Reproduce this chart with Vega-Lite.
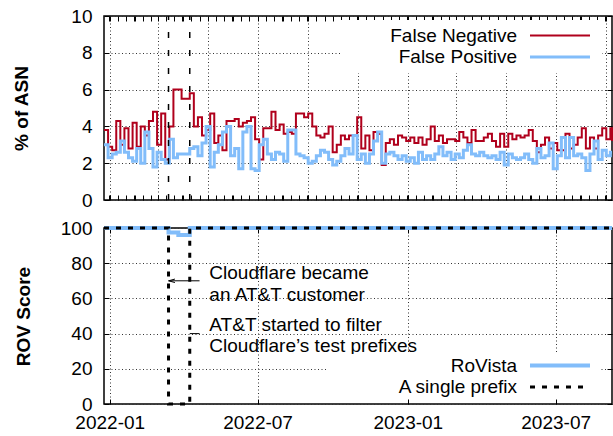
{
  "$schema": "https://vega.github.io/schema/vega-lite/v6.json",
  "padding": {"left": 12, "top": 6, "right": 1, "bottom": 0},
  "background": "white",
  "spacing": 28,
  "bounds": "flush",
  "resolve": {
    "scale": {"color": "independent", "strokeWidth": "independent", "strokeDash": "independent"},
    "legend": {"color": "independent", "strokeWidth": "independent", "strokeDash": "independent"}
  },
  "config": {
    "font": "Liberation Sans",
    "view": {"stroke": "black", "strokeWidth": 1.5},
    "axis": {
      "labelFont": "Liberation Sans", "labelFontSize": 19, "labelColor": "black",
      "titleFont": "Liberation Sans", "titleFontSize": 19, "titleColor": "black", "titleFontWeight": "bold",
      "domain": false, "tickColor": "black", "tickWidth": 1, "tickSize": -5, "labelFlush": false,
      "gridColor": "#333", "gridDash": [1, 2.5], "gridWidth": 1
    },
    "legend": {"labelFont": "Liberation Sans", "labelFontSize": 19, "labelColor": "black"}
  },
  "vconcat": [
    {
      "width": 508, "height": 184,
      "resolve": {"axis": {"x": "independent", "y": "independent"}},
      "layer": [
        {
          "data": {"values": [
            {"date":"2021-12-25","False Negative":3.8,"False Positive":3.0},
            {"date":"2021-12-30","False Negative":2.9,"False Positive":2.3},
            {"date":"2022-01-04","False Negative":2.7,"False Positive":2.5},
            {"date":"2022-01-09","False Negative":4.3,"False Positive":2.6},
            {"date":"2022-01-14","False Negative":3.0,"False Positive":3.2},
            {"date":"2022-01-19","False Negative":3.9,"False Positive":2.6},
            {"date":"2022-01-24","False Negative":2.8,"False Positive":2.3},
            {"date":"2022-01-29","False Negative":4.2,"False Positive":2.1},
            {"date":"2022-02-03","False Negative":2.9,"False Positive":2.8},
            {"date":"2022-02-08","False Negative":4.0,"False Positive":2.0},
            {"date":"2022-02-13","False Negative":3.5,"False Positive":3.7},
            {"date":"2022-02-18","False Negative":4.3,"False Positive":2.8},
            {"date":"2022-02-23","False Negative":4.8,"False Positive":1.8},
            {"date":"2022-02-28","False Negative":3.0,"False Positive":2.6},
            {"date":"2022-03-05","False Negative":4.7,"False Positive":2.2},
            {"date":"2022-03-10","False Negative":2.2,"False Positive":2.0},
            {"date":"2022-03-15","False Negative":4.0,"False Positive":3.3},
            {"date":"2022-03-20","False Negative":6.0,"False Positive":2.3},
            {"date":"2022-03-25","False Negative":6.0,"False Positive":2.5},
            {"date":"2022-03-30","False Negative":5.5,"False Positive":2.5},
            {"date":"2022-04-04","False Negative":5.5,"False Positive":2.5},
            {"date":"2022-04-09","False Negative":5.8,"False Positive":2.8},
            {"date":"2022-04-14","False Negative":4.0,"False Positive":2.9},
            {"date":"2022-04-19","False Negative":4.5,"False Positive":2.4},
            {"date":"2022-04-24","False Negative":3.5,"False Positive":3.1},
            {"date":"2022-04-29","False Negative":3.8,"False Positive":4.0},
            {"date":"2022-05-04","False Negative":4.7,"False Positive":1.8},
            {"date":"2022-05-09","False Negative":3.1,"False Positive":2.6},
            {"date":"2022-05-14","False Negative":3.5,"False Positive":3.0},
            {"date":"2022-05-19","False Negative":2.7,"False Positive":3.7},
            {"date":"2022-05-24","False Negative":4.3,"False Positive":4.0},
            {"date":"2022-05-29","False Negative":4.3,"False Positive":2.4},
            {"date":"2022-06-03","False Negative":4.4,"False Positive":2.8},
            {"date":"2022-06-08","False Negative":4.0,"False Positive":1.7},
            {"date":"2022-06-13","False Negative":4.2,"False Positive":3.7},
            {"date":"2022-06-18","False Negative":4.3,"False Positive":4.0},
            {"date":"2022-06-23","False Negative":4.5,"False Positive":1.7},
            {"date":"2022-06-28","False Negative":3.3,"False Positive":1.6},
            {"date":"2022-07-03","False Negative":2.2,"False Positive":3.0},
            {"date":"2022-07-08","False Negative":3.9,"False Positive":3.3},
            {"date":"2022-07-13","False Negative":3.9,"False Positive":2.5},
            {"date":"2022-07-18","False Negative":4.8,"False Positive":2.2},
            {"date":"2022-07-23","False Negative":3.8,"False Positive":2.6},
            {"date":"2022-07-28","False Negative":4.1,"False Positive":2.5},
            {"date":"2022-08-02","False Negative":3.6,"False Positive":2.1},
            {"date":"2022-08-07","False Negative":3.7,"False Positive":3.8},
            {"date":"2022-08-12","False Negative":3.6,"False Positive":3.8},
            {"date":"2022-08-17","False Negative":4.7,"False Positive":2.5},
            {"date":"2022-08-22","False Negative":4.7,"False Positive":2.4},
            {"date":"2022-08-27","False Negative":4.5,"False Positive":2.3},
            {"date":"2022-09-01","False Negative":4.7,"False Positive":2.0},
            {"date":"2022-09-06","False Negative":4.0,"False Positive":2.1},
            {"date":"2022-09-11","False Negative":3.5,"False Positive":2.4},
            {"date":"2022-09-16","False Negative":3.4,"False Positive":2.7},
            {"date":"2022-09-21","False Negative":3.6,"False Positive":2.6},
            {"date":"2022-09-26","False Negative":4.0,"False Positive":2.2},
            {"date":"2022-10-01","False Negative":2.6,"False Positive":1.9},
            {"date":"2022-10-06","False Negative":3.0,"False Positive":2.1},
            {"date":"2022-10-11","False Negative":3.5,"False Positive":2.4},
            {"date":"2022-10-16","False Negative":3.3,"False Positive":2.8},
            {"date":"2022-10-21","False Negative":3.5,"False Positive":2.5},
            {"date":"2022-10-26","False Negative":3.5,"False Positive":3.5},
            {"date":"2022-10-31","False Negative":4.5,"False Positive":2.2},
            {"date":"2022-11-05","False Negative":2.8,"False Positive":2.5},
            {"date":"2022-11-10","False Negative":3.5,"False Positive":2.0},
            {"date":"2022-11-15","False Negative":2.7,"False Positive":2.5},
            {"date":"2022-11-20","False Negative":3.7,"False Positive":3.2},
            {"date":"2022-11-25","False Negative":3.6,"False Positive":3.7},
            {"date":"2022-11-30","False Negative":1.9,"False Positive":2.0},
            {"date":"2022-12-05","False Negative":3.1,"False Positive":2.5},
            {"date":"2022-12-10","False Negative":3.3,"False Positive":2.6},
            {"date":"2022-12-15","False Negative":3.0,"False Positive":2.4},
            {"date":"2022-12-20","False Negative":3.5,"False Positive":2.2},
            {"date":"2022-12-25","False Negative":3.4,"False Positive":2.4},
            {"date":"2022-12-30","False Negative":3.2,"False Positive":2.1},
            {"date":"2023-01-04","False Negative":3.4,"False Positive":2.3},
            {"date":"2023-01-09","False Negative":3.1,"False Positive":2.0},
            {"date":"2023-01-14","False Negative":3.4,"False Positive":2.6},
            {"date":"2023-01-19","False Negative":3.0,"False Positive":2.2},
            {"date":"2023-01-24","False Negative":3.3,"False Positive":2.4},
            {"date":"2023-01-29","False Negative":4.0,"False Positive":2.2},
            {"date":"2023-02-03","False Negative":3.2,"False Positive":2.5},
            {"date":"2023-02-08","False Negative":3.5,"False Positive":2.9},
            {"date":"2023-02-13","False Negative":3.1,"False Positive":2.4},
            {"date":"2023-02-18","False Negative":3.3,"False Positive":2.6},
            {"date":"2023-02-23","False Negative":3.3,"False Positive":2.2},
            {"date":"2023-02-28","False Negative":3.2,"False Positive":2.5},
            {"date":"2023-03-05","False Negative":3.7,"False Positive":2.3},
            {"date":"2023-03-10","False Negative":3.4,"False Positive":2.7},
            {"date":"2023-03-15","False Negative":3.1,"False Positive":3.0},
            {"date":"2023-03-20","False Negative":3.8,"False Positive":2.5},
            {"date":"2023-03-25","False Negative":3.2,"False Positive":2.4},
            {"date":"2023-03-30","False Negative":3.2,"False Positive":2.6},
            {"date":"2023-04-04","False Negative":3.4,"False Positive":2.4},
            {"date":"2023-04-09","False Negative":3.6,"False Positive":2.3},
            {"date":"2023-04-14","False Negative":3.2,"False Positive":2.4},
            {"date":"2023-04-19","False Negative":2.9,"False Positive":2.2},
            {"date":"2023-04-24","False Negative":3.6,"False Positive":2.6},
            {"date":"2023-04-29","False Negative":2.9,"False Positive":1.9},
            {"date":"2023-05-04","False Negative":3.6,"False Positive":2.5},
            {"date":"2023-05-09","False Negative":3.3,"False Positive":2.3},
            {"date":"2023-05-14","False Negative":3.5,"False Positive":2.2},
            {"date":"2023-05-19","False Negative":3.4,"False Positive":2.3},
            {"date":"2023-05-24","False Negative":3.5,"False Positive":2.5},
            {"date":"2023-05-29","False Negative":3.8,"False Positive":2.2},
            {"date":"2023-06-03","False Negative":3.2,"False Positive":2.0},
            {"date":"2023-06-08","False Negative":2.6,"False Positive":2.8},
            {"date":"2023-06-13","False Negative":3.0,"False Positive":2.3},
            {"date":"2023-06-18","False Negative":3.4,"False Positive":2.4},
            {"date":"2023-06-23","False Negative":2.8,"False Positive":3.1},
            {"date":"2023-06-28","False Negative":3.1,"False Positive":1.7},
            {"date":"2023-07-03","False Negative":2.7,"False Positive":2.4},
            {"date":"2023-07-08","False Negative":2.7,"False Positive":3.4},
            {"date":"2023-07-13","False Negative":3.6,"False Positive":2.3},
            {"date":"2023-07-18","False Negative":2.8,"False Positive":3.4},
            {"date":"2023-07-23","False Negative":3.0,"False Positive":2.4},
            {"date":"2023-07-28","False Negative":3.4,"False Positive":2.5},
            {"date":"2023-08-02","False Negative":3.9,"False Positive":2.3},
            {"date":"2023-08-07","False Negative":2.8,"False Positive":1.6},
            {"date":"2023-08-12","False Negative":3.4,"False Positive":2.5},
            {"date":"2023-08-17","False Negative":2.8,"False Positive":3.2},
            {"date":"2023-08-22","False Negative":3.5,"False Positive":2.2},
            {"date":"2023-08-27","False Negative":3.9,"False Positive":2.7},
            {"date":"2023-09-01","False Negative":3.3,"False Positive":2.4},
            {"date":"2023-09-06","False Negative":3.9,"False Positive":2.6},
            {"date":"2023-09-08","False Negative":3.2,"False Positive":2.6}
          ]},
          "transform": [{"fold": ["False Negative", "False Positive"], "as": ["series", "value"]}],
          "mark": {"type": "line", "interpolate": "step-after"},
          "encoding": {
            "x": {"field": "date", "type": "temporal",
              "scale": {"domain": [{"year": 2021, "month": 12, "date": 25}, {"year": 2023, "month": 9, "date": 8}]},
              "axis": {"orient": "bottom", "labels": false, "title": null,
                "tickCount": {"interval": "day", "step": 10}, "grid": true,
                "gridOpacity": {"condition": {"test": "date(datum.value)==1 && month(datum.value)%2==0", "value": 1}, "value": 0}}},
            "y": {"field": "value", "type": "quantitative", "scale": {"domain": [0, 10]},
              "axis": {"orient": "left", "values": [0, 2, 4, 6, 8, 10], "title": "% of ASN", "labelPadding": 17, "titlePadding": 39, "grid": true}},
            "color": {"field": "series", "type": "nominal",
              "scale": {"domain": ["False Negative", "False Positive"], "range": ["#b0001c", "#82bdfa"]},
              "legend": {"orient": "none", "legendX": 236, "legendY": 4, "title": null, "direction": "vertical",
                "symbolType": "M-6,0H6", "symbolSize": 100, "rowPadding": 1.5,
                "labelAlign": "right", "labelOffset": -52.5, "symbolOffset": 204.5, "labelLimit": 500,
                "fillColor": "white", "padding": 6}},
            "strokeWidth": {"field": "series", "type": "nominal",
              "scale": {"domain": ["False Negative", "False Positive"], "range": [2, 3]},
              "legend": {"orient": "none", "legendX": 236, "legendY": 4, "title": null, "direction": "vertical",
                "symbolType": "M-6,0H6", "symbolSize": 100, "rowPadding": 1.5,
                "labelAlign": "right", "labelOffset": -52.5, "symbolOffset": 204.5, "labelLimit": 500,
                "fillColor": "white", "padding": 6}}
          }
        },
        {
          "data": {"values": [{"date": "2022-03-14"}, {"date": "2022-04-09"}]},
          "mark": {"type": "rule", "strokeDash": [6, 12], "strokeWidth": 1.5, "color": "black"},
          "encoding": {
            "x": {"field": "date", "type": "temporal",
              "axis": {"orient": "top", "labels": false, "title": null, "grid": false, "tickCount": {"interval": "day", "step": 10}}},
            "y": {"datum": 0, "type": "quantitative",
              "axis": {"orient": "right", "labels": false, "title": null, "grid": false, "values": [0, 2, 4, 6, 8, 10]}},
            "y2": {"datum": 10}
          }
        }
      ]
    },
    {
      "width": 508, "height": 176,
      "resolve": {"axis": {"x": "independent", "y": "independent"}},
      "layer": [
        {
          "data": {"values": [
            {"date": "2021-12-25", "series": "RoVista", "value": 100},
            {"date": "2022-03-14", "series": "RoVista", "value": 97.5},
            {"date": "2022-03-26", "series": "RoVista", "value": 96},
            {"date": "2022-04-09", "series": "RoVista", "value": 100},
            {"date": "2023-09-08", "series": "RoVista", "value": 100},
            {"date": "2021-12-25", "series": "A single prefix", "value": 100},
            {"date": "2022-03-14", "series": "A single prefix", "value": 0},
            {"date": "2022-04-09", "series": "A single prefix", "value": 100},
            {"date": "2023-09-08", "series": "A single prefix", "value": 100}
          ]},
          "mark": {"type": "line", "interpolate": "step-after"},
          "encoding": {
            "x": {"field": "date", "type": "temporal",
              "scale": {"domain": [{"year": 2021, "month": 12, "date": 25}, {"year": 2023, "month": 9, "date": 8}]},
              "axis": {"orient": "bottom", "format": "%Y-%m", "title": null, "labelPadding": 14,
                "tickCount": {"interval": "month", "step": 6}, "grid": true}},
            "y": {"field": "value", "type": "quantitative", "scale": {"domain": [0, 100]},
              "axis": {"orient": "left", "values": [0, 20, 40, 60, 80, 100], "title": "ROV Score", "labelPadding": 17, "titlePadding": 27, "grid": true}},
            "color": {"field": "series", "type": "nominal",
              "scale": {"domain": ["RoVista", "A single prefix"], "range": ["#82bdfa", "black"]},
              "legend": {"orient": "none", "legendX": 222, "legendY": 126, "title": null, "direction": "vertical",
                "symbolType": "M-6,0H6", "symbolSize": 100, "rowPadding": 1.5,
                "labelAlign": "right", "labelOffset": -52.5, "symbolOffset": 222.5, "labelLimit": 500,
                "fillColor": "white", "padding": 2}},
            "strokeDash": {"field": "series", "type": "nominal",
              "scale": {"domain": ["RoVista", "A single prefix"], "range": [[1, 0], [5, 7]]},
              "legend": {"orient": "none", "legendX": 222, "legendY": 126, "title": null, "direction": "vertical",
                "symbolType": "M-6,0H6", "symbolSize": 100, "rowPadding": 1.5,
                "labelAlign": "right", "labelOffset": -52.5, "symbolOffset": 222.5, "labelLimit": 500,
                "fillColor": "white", "padding": 2}},
            "strokeWidth": {"field": "series", "type": "nominal",
              "scale": {"domain": ["RoVista", "A single prefix"], "range": [4, 3]},
              "legend": {"orient": "none", "legendX": 222, "legendY": 126, "title": null, "direction": "vertical",
                "symbolType": "M-6,0H6", "symbolSize": 100, "rowPadding": 1.5,
                "labelAlign": "right", "labelOffset": -52.5, "symbolOffset": 222.5, "labelLimit": 500,
                "fillColor": "white", "padding": 2}}
          }
        },
        {
          "data": {"values": [
            {"date": "2022-04-21", "date2": "2022-03-14", "value": 70},
            {"date": "2022-04-21", "date2": "2022-04-09", "value": 40}
          ]},
          "mark": {"type": "rule", "color": "black", "strokeWidth": 1},
          "encoding": {
            "x": {"field": "date", "type": "temporal",
              "axis": {"orient": "top", "labels": false, "title": null, "grid": false, "tickCount": {"interval": "month", "step": 6}}},
            "x2": {"field": "date2"},
            "y": {"field": "value", "type": "quantitative",
              "axis": {"orient": "right", "labels": false, "title": null, "grid": false, "values": [0, 20, 40, 60, 80, 100]}}
          }
        },
        {
          "data": {"values": [{"date": "2022-03-18", "value": 70}]},
          "mark": {"type": "point", "shape": "M1,-0.55L-1,0L1,0.55", "filled": false, "stroke": "black", "strokeWidth": 1, "size": 40, "opacity": 1},
          "encoding": {
            "x": {"field": "date", "type": "temporal", "axis": null},
            "y": {"field": "value", "type": "quantitative", "axis": null}
          }
        },
        {
          "data": {"values": [
            {"date": "2022-05-03", "value": 74.6, "label": "Cloudflare became"},
            {"date": "2022-05-03", "value": 62, "label": "an AT&T customer"},
            {"date": "2022-05-03", "value": 45, "label": "AT&T started to filter"},
            {"date": "2022-05-03", "value": 33, "label": "Cloudflare’s test prefixes"}
          ]},
          "mark": {"type": "text", "align": "left", "baseline": "middle", "fontSize": 19, "font": "Liberation Sans", "color": "black"},
          "encoding": {
            "x": {"field": "date", "type": "temporal", "axis": null},
            "y": {"field": "value", "type": "quantitative", "axis": null},
            "text": {"field": "label"}
          }
        }
      ]
    }
  ]
}
